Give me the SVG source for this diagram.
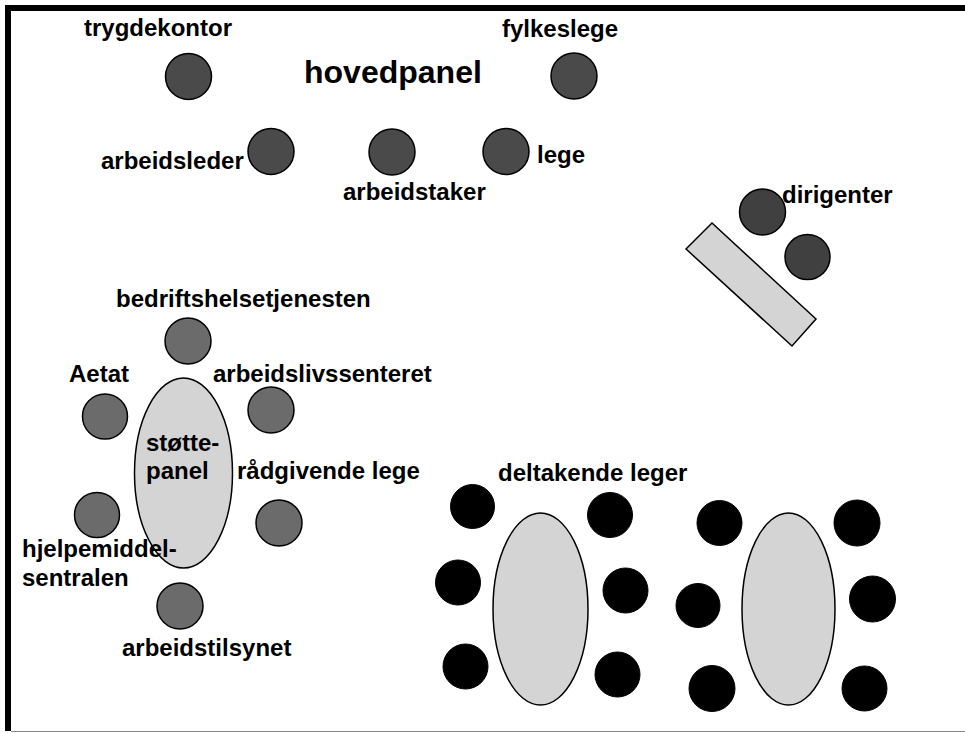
<svg xmlns="http://www.w3.org/2000/svg" width="965" height="733" viewBox="0 0 965 733">
<style>
text{font-family:"Liberation Sans",Arial,sans-serif;font-weight:bold;font-size:24px;fill:#000}
.big{font-size:32px}
.hp{fill:#4a4a4a;stroke:#000;stroke-width:1.5}
.dg{fill:#404040;stroke:#000;stroke-width:1.5}
.sp{fill:#6b6b6b;stroke:#000;stroke-width:1.5}
.dl{fill:#000;stroke:#000;stroke-width:1}
.tbl{fill:#d4d4d4;stroke:#000;stroke-width:1.5}
</style>
<rect x="0" y="0" width="965" height="733" fill="#fff"/>
<g id="frame">
<rect x="5" y="5" width="960" height="6" fill="#000"/>
<rect x="5" y="5" width="6" height="726" fill="#000"/>
<line x1="11" y1="731.5" x2="965" y2="731.5" stroke="#888" stroke-width="1"/>
</g>
<g id="hovedpanel">
<text class="big" x="304" y="83">hovedpanel</text>
<g id="trygdekontor"><circle class="hp" cx="188.5" cy="76.5" r="23"/><text x="84" y="36">trygdekontor</text></g>
<g id="fylkeslege"><circle class="hp" cx="574" cy="76" r="23"/><text x="502" y="37">fylkeslege</text></g>
<g id="arbeidsleder"><circle class="hp" cx="271" cy="151.5" r="23"/><text x="101" y="169">arbeidsleder</text></g>
<g id="arbeidstaker"><circle class="hp" cx="392" cy="152" r="23"/><text x="343" y="200">arbeidstaker</text></g>
<g id="lege"><circle class="hp" cx="506" cy="151.5" r="23"/><text x="537" y="163">lege</text></g>
</g>
<g id="dirigenter">
<polygon class="tbl" points="686,249 712,223 816,319 792,346"/>
<circle class="dg" cx="762.5" cy="212" r="23"/>
<circle class="dg" cx="807.5" cy="257" r="22.5"/>
<text x="782" y="203">dirigenter</text>
</g>
<g id="stottepanel">
<ellipse class="tbl" cx="183.5" cy="473" rx="49" ry="95"/>
<text x="146" y="451">støtte-</text>
<text x="146" y="479">panel</text>
<g id="bedriftshelsetjenesten"><circle class="sp" cx="188" cy="341" r="23"/><text x="116" y="307">bedriftshelsetjenesten</text></g>
<g id="aetat"><circle class="sp" cx="105" cy="416.5" r="22.5"/><text x="69" y="382">Aetat</text></g>
<g id="arbeidslivssenteret"><circle class="sp" cx="271" cy="410" r="23"/><text x="213" y="382">arbeidslivssenteret</text></g>
<g id="radgivende-lege"><circle class="sp" cx="279" cy="523" r="23"/><text x="237" y="479">rådgivende lege</text></g>
<g id="hjelpemiddelsentralen"><circle class="sp" cx="97" cy="515" r="22.5"/><text x="22" y="557">hjelpemiddel-</text><text x="22" y="586">sentralen</text></g>
<g id="arbeidstilsynet"><circle class="sp" cx="180" cy="606" r="23"/><text x="122" y="656">arbeidstilsynet</text></g>
</g>
<g id="deltakende-leger">
<text x="498" y="481">deltakende leger</text>
<g id="bord1">
<ellipse class="tbl" cx="540.5" cy="609" rx="47.5" ry="96"/>
<circle class="dl" cx="472.5" cy="506.5" r="22"/>
<circle class="dl" cx="610" cy="515" r="22.5"/>
<circle class="dl" cx="458" cy="582.5" r="22.5"/>
<circle class="dl" cx="625.5" cy="590.5" r="22.5"/>
<circle class="dl" cx="465.5" cy="666.5" r="22.5"/>
<circle class="dl" cx="617.5" cy="674.5" r="22.5"/>
</g>
<g id="bord2">
<ellipse class="tbl" cx="788.5" cy="609" rx="46.5" ry="96"/>
<circle class="dl" cx="719.5" cy="523" r="22.5"/>
<circle class="dl" cx="857" cy="523" r="23"/>
<circle class="dl" cx="698" cy="605.5" r="22"/>
<circle class="dl" cx="872.5" cy="599" r="23"/>
<circle class="dl" cx="712" cy="688.5" r="23"/>
<circle class="dl" cx="864.5" cy="688.5" r="22.5"/>
</g>
</g>
</svg>
